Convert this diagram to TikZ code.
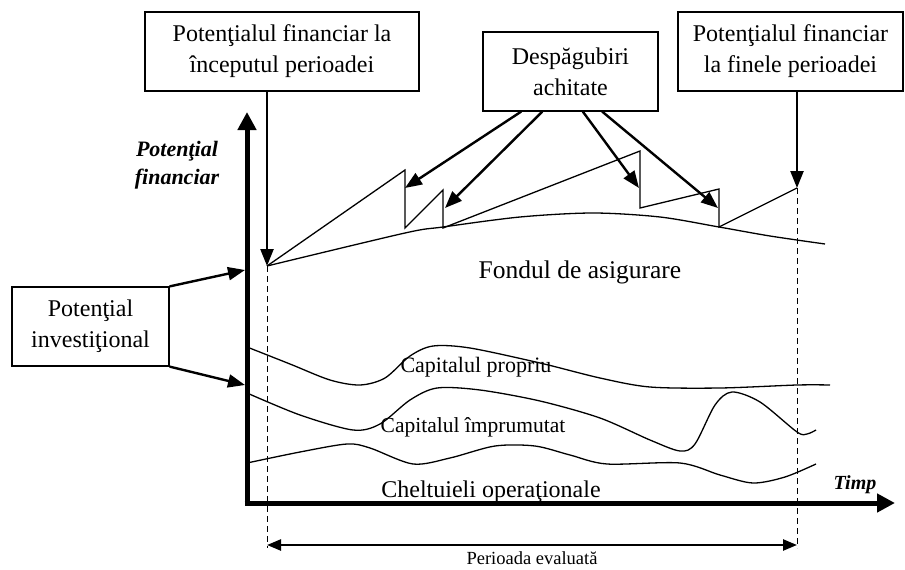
\documentclass[tikz,border=0pt]{standalone}
\usepackage{fontspec}
\setmainfont{Liberation Serif}
\usetikzlibrary{arrows.meta, calc}

\tikzset{
  box/.style={draw, line width=1.2pt, align=center, inner sep=0pt,
    font=\fontsize{24}{31}\selectfont},
  pointer/.style={line width=2.4pt, -{Triangle[length=17pt,width=13pt]}},
  axisline/.style={line width=5pt, -{Triangle[length=18pt,width=18pt]}},
  axislabel/.style={align=center, font=\fontsize{22}{28}\selectfont\bfseries\itshape},
  curveline/.style={line width=1.3pt},
  guide/.style={line width=1pt, dash pattern=on 6pt off 4pt},
  span/.style={line width=2.4pt, {Triangle[length=14pt,width=11pt]}-{Triangle[length=14pt,width=11pt]}},
  curvelabel/.style={font=\fontsize{22}{26}\selectfont},
}

\begin{document}
\begin{tikzpicture}[x=1pt, y=-1pt]
  \useasboundingbox (0,0) rectangle (905,570);

  % Boxes
  \node[box, minimum width=274pt, minimum height=79pt] (fin1) at (282,51.5) {Potenţialul financiar la\\începutul perioadei};
  \node[box, minimum width=175pt, minimum height=79pt] (desp) at (570.5,71.5) {Despăgubiri\\achitate};
  \node[box, minimum width=225pt, minimum height=79pt] (fin2) at (790.5,51.5) {Potenţialul financiar\\la finele perioadei};
  \node[box, minimum width=157pt, minimum height=79pt] (invest) at (90.5,326.5) {Potenţial\\investiţional};

  % Axes
  \coordinate (origin) at (247,503);
  \coordinate (ytip) at (247,112);
  \coordinate (xtip) at (895,503);
  \draw[axisline] ($(origin)+(0,2.5)$) -- (ytip);
  \draw[axisline] ($(origin)+(-2.5,0)$) -- (xtip);
  \node[axislabel] (ylab) at (177,165) {Potenţial\\financiar};
  \node[axislabel, font=\fontsize{20}{24}\selectfont\bfseries\itshape] (xlab) at (855,485) {Timp};

  % Zigzag of the financial potential
  \coordinate (z0) at (267,266);
  \coordinate (z1) at (405,170);
  \coordinate (z2) at (405,228);
  \coordinate (z3) at (443,190);
  \coordinate (z4) at (443,228);
  \coordinate (z5) at (640,151);
  \coordinate (z6) at (640,208);
  \coordinate (z7) at (719,189);
  \coordinate (z8) at (719,227);
  \coordinate (z9) at (797,188);
  \draw[curveline] (z0) -- (z1) -- (z2) -- (z3) -- (z4) -- (z5) -- (z6) -- (z7) -- (z8) -- (z9);

  % Insurance fund
  \draw[curveline] plot[smooth] coordinates {(267,266) (405,233) (443,227) (520,217) (593,213) (660,217) (719,227) (770,236) (825,244)};
  \node[curvelabel, font=\fontsize{25.5}{30}\selectfont] (fond) at (580,272) {Fondul de asigurare};

  % Paid claims
  \coordinate (d1) at (405,188);
  \coordinate (d2) at (445,208);
  \coordinate (d3) at (639,188);
  \coordinate (d4) at (718,208);
  \draw[pointer] ($(desp.south west)!0.22!(desp.south east)$) -- (d1);
  \draw[pointer] ($(desp.south west)!0.34!(desp.south east)$) -- (d2);
  \draw[pointer] ($(desp.south west)!0.57!(desp.south east)$) -- (d3);
  \draw[pointer] ($(desp.south west)!0.68!(desp.south east)$) -- (d4);

  % Start and end of the period
  \draw[pointer] (z0 |- fin1.south) -- (z0);
  \draw[pointer] (z9 |- fin2.south) -- (z9);

  % Investment potential
  \coordinate (in1) at (245,270);
  \coordinate (in2) at (245,385);
  \draw[pointer] (invest.north east) -- (in1);
  \draw[pointer] (invest.south east) -- (in2);

  % Capital curves
  \draw[curveline] plot[smooth] coordinates {(247,347) (290,364) (330,380) (360,385) (385,378) (410,356) (433,346) (470,348) (540,363) (600,378) (650,387) (720,388) (797,385) (830,385)};
  \node[curvelabel] (propriu) at (476,367) {Capitalul propriu};
  \draw[curveline] plot[smooth] coordinates {(247,393) (300,415) (353,430) (380,424) (410,400) (437,388) (480,390) (540,401) (600,418) (650,440) (680,451) (695,444) (715,405) (732,392) (760,402) (797,432) (807,434) (816,430)};
  \node[curvelabel, font=\fontsize{21.5}{26}\selectfont] (imprumutat) at (473,427) {Capitalul împrumutat};
  \draw[curveline] plot[smooth] coordinates {(247,463) (300,452) (347,444) (370,448) (413,464) (450,458) (495,446) (535,446) (570,455) (607,464) (680,463) (720,475) (753,483) (785,477) (816,464)};
  \node[curvelabel, font=\fontsize{24}{28}\selectfont, anchor=base] (cheltuieli) at (491,497) {Cheltuieli operaţionale};

  % Evaluated period
  \coordinate (p0) at (267,548);
  \coordinate (p1) at (797,548);
  \draw[guide] (z0) -- (p0);
  \draw[guide] (z9) -- (p1);
  \coordinate (a0) at (267,545);
  \coordinate (a1) at (797,545);
  \draw[span] (a0) -- (a1);
  \node[font=\fontsize{18.5}{22}\selectfont] (perioada) at (532,558) {Perioada evaluată};
\end{tikzpicture}
\end{document}
